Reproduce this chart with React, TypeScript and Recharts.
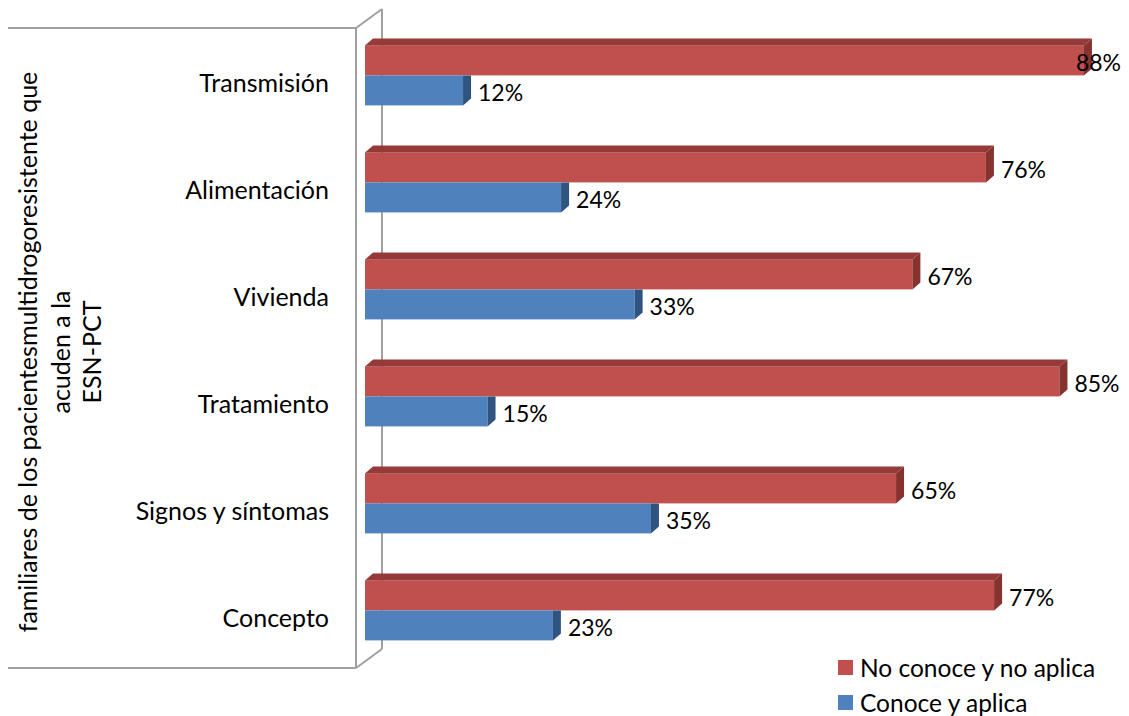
import React from "react";
import { BarChart, Bar, XAxis, YAxis, LabelList } from "recharts";

const categories = ["Transmisión", "Alimentación", "Vivienda", "Tratamiento", "Signos y síntomas", "Concepto"];
const noConoce = [88, 76, 67, 85, 65, 77];
const conoce = [12, 24, 33, 15, 35, 23];
const seriesNames = ["No conoce y no aplica", "Conoce y aplica"];
const titleLines = ["familiares de los pacientesmultidrogoresistente que", "acuden a la", "ESN-PCT"];

const data = categories.map((name, i) => ({ name, noConoce: noConoce[i], conoce: conoce[i] }));

const FONT = "Lato, 'Open Sans', sans-serif";
const RED = "#C0504D";
const RED_TOP = "#953A38";
const RED_SIDE = "#86322F";
const BLUE = "#4F81BD";
const BLUE_SIDE = "#2F5480";
const DX = 8;
const DY = 7;
const FRAME = "#A0A0A0";

const RedShape = (p: any) => {
  const { x, y, width: w, height: h } = p;
  if (w == null || h == null) return null;
  return (
    <g>
      <rect x={x} y={y} width={w} height={h} fill={RED} />
      <polygon points={`${x},${y} ${x + DX},${y - DY} ${x + w + DX},${y - DY} ${x + w},${y}`} fill={RED_TOP} />
      <polygon points={`${x + w},${y} ${x + w + DX},${y - DY} ${x + w + DX},${y + h - DY} ${x + w},${y + h}`} fill={RED_SIDE} />
    </g>
  );
};

const BlueShape = (p: any) => {
  const { x, y, width: w, height: h } = p;
  if (w == null || h == null) return null;
  return (
    <g>
      <rect x={x} y={y} width={w} height={h} fill={BLUE} />
      <polygon points={`${x + w},${y} ${x + w + DX},${y} ${x + w + DX},${y + h - DY} ${x + w},${y + h}`} fill={BLUE_SIDE} />
    </g>
  );
};

const RIGHT_LIMIT = 1121;
const renderLabel = (p: any) => {
  const { x, y, width: w, height: h, value } = p;
  const tx = x + w + DX + 7;
  const est = 46;
  const overflow = tx + est > RIGHT_LIMIT;
  return (
    <text
      x={overflow ? RIGHT_LIMIT : tx}
      y={y + h / 2 + 2}
      textAnchor={overflow ? "end" : "start"}
      dominantBaseline="central"
      fontFamily={FONT}
      fontSize={23}
      fill="#000"
    >
      {`${value}%`}
    </text>
  );
};

const CatTick = (p: any) => {
  const { y, payload } = p;
  return (
    <text x={329} y={y + 7} textAnchor="end" dominantBaseline="central" fontFamily={FONT} fontSize={25} fill="#000">
      {payload.value}
    </text>
  );
};

export default function App() {
  return (
    <div style={{ position: "fixed", left: 0, top: 0, width: 1129, height: 716, overflow: "hidden", background: "#fff" }}>
      <svg width={1129} height={716} style={{ position: "absolute", left: 0, top: 0 }}>
        <g stroke={FRAME} strokeWidth={2} fill="none">
          <line x1={8} y1={28} x2={356} y2={28} />
          <line x1={356} y1={28} x2={382} y2={9} />
          <line x1={382} y1={9} x2={382} y2={649} />
          <line x1={356} y1={28} x2={356} y2={668} />
          <line x1={8} y1={668} x2={356} y2={668} />
          <line x1={356} y1={668} x2={382} y2={649} />
        </g>
        {titleLines.map((t, i) => (
          <text
            key={i}
            transform={`translate(${[37, 70, 101][i]},352) rotate(-90)`}
            textAnchor="middle"
            fontFamily={FONT}
            fontSize={25}
            fill="#000"
          >
            {t}
          </text>
        ))}
      </svg>
      <div style={{ position: "absolute", left: 0, top: 0 }}>
        <BarChart
          width={1200}
          height={716}
          data={data}
          layout="vertical"
          margin={{ top: 21.4, bottom: 52.6, left: 355, right: 18 }}
          barGap={0}
          barSize={30}
        >
          <XAxis type="number" domain={[0, 100]} hide />
          <YAxis
            type="category"
            dataKey="name"
            width={10}
            axisLine={false}
            tickLine={false}
            interval={0}
            tick={(props: any) => <CatTick {...props} />}
          />
          <Bar dataKey="noConoce" name={seriesNames[0]} fill={RED} shape={(props: any) => <RedShape {...props} />} isAnimationActive={false}>
            <LabelList dataKey="noConoce" content={renderLabel} />
          </Bar>
          <Bar dataKey="conoce" name={seriesNames[1]} fill={BLUE} shape={(props: any) => <BlueShape {...props} />} isAnimationActive={false}>
            <LabelList dataKey="conoce" content={renderLabel} />
          </Bar>
        </BarChart>
      </div>
      <div style={{ position: "absolute", left: 838, top: 650, fontFamily: FONT, fontSize: 24.5, color: "#000" }}>
        {seriesNames.map((n, i) => (
          <div key={n} style={{ display: "flex", alignItems: "center", height: 35, whiteSpace: "nowrap" }}>
            <div style={{ width: 15, height: 15, background: i === 0 ? RED : BLUE, marginRight: 7 }} />
            <span>{n}</span>
          </div>
        ))}
      </div>
    </div>
  );
}
